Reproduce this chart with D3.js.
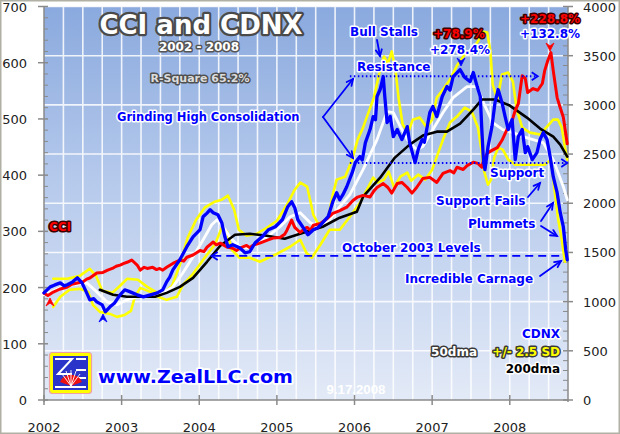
<!DOCTYPE html>
<html><head><meta charset="utf-8">
<script src="https://cdn.jsdelivr.net/npm/d3@7"></script>
<style>html,body{margin:0;padding:0;background:#fff}svg{display:block}</style>
</head><body>
<svg id="c" width="620" height="434"></svg>
<script>
// ---------- DATA ----------
const yearTicks = [2002,2003,2004,2005,2006,2007,2008];
const cciTicks = [0,100,200,300,400,500,600,700];
const cdnxTicks = [0,500,1000,1500,2000,2500,3000,3500,4000];

// CCI (left axis) [decimal year, value]
const cci = [[2002.00,190],[2002.05,186],[2002.12,192],[2002.20,197],[2002.30,201],[2002.36,206],[2002.43,208],[2002.50,210],[2002.55,215],[2002.59,217],[2002.64,222],[2002.68,226],[2002.76,227],[2002.82,231],[2002.88,234],[2002.93,238],[2002.98,240],[2003.03,243],[2003.07,245],[2003.13,249],[2003.20,240],[2003.24,231],[2003.29,236],[2003.33,234],[2003.40,236],[2003.45,232],[2003.49,234],[2003.53,231],[2003.58,236],[2003.66,243],[2003.75,249],[2003.80,247],[2003.84,254],[2003.92,258],[2004.01,266],[2004.06,264],[2004.10,272],[2004.18,281],[2004.22,276],[2004.27,279],[2004.36,272],[2004.43,270],[2004.48,266],[2004.52,270],[2004.61,275],[2004.65,271],[2004.69,275],[2004.78,279],[2004.87,284],[2004.95,288],[2005.04,289],[2005.10,295],[2005.13,302],[2005.19,320],[2005.23,307],[2005.30,298],[2005.35,304],[2005.39,307],[2005.43,302],[2005.47,311],[2005.56,314],[2005.60,318],[2005.65,323],[2005.72,332],[2005.81,337],[2005.90,343],[2005.98,355],[2006.04,361],[2006.11,364],[2006.20,361],[2006.25,372],[2006.29,378],[2006.37,385],[2006.43,378],[2006.48,368],[2006.55,385],[2006.61,387],[2006.68,378],[2006.74,368],[2006.80,378],[2006.88,394],[2006.97,396],[2007.06,387],[2007.14,403],[2007.23,408],[2007.28,404],[2007.32,414],[2007.40,410],[2007.45,417],[2007.53,423],[2007.59,421],[2007.64,414],[2007.66,426],[2007.71,439],[2007.77,444],[2007.84,449],[2007.90,462],[2007.96,480],[2008.03,497],[2008.07,515],[2008.11,527],[2008.16,577],[2008.20,572],[2008.23,547],[2008.30,554],[2008.36,551],[2008.42,563],[2008.45,586],[2008.49,604],[2008.53,618],[2008.56,586],[2008.61,538],[2008.65,520],[2008.69,503],[2008.74,456]];

// CDNX (right axis)
const cdnx = [[2002.00,1089],[2002.04,1120],[2002.08,1150],[2002.14,1170],[2002.21,1191],[2002.26,1160],[2002.30,1171],[2002.37,1201],[2002.43,1242],[2002.49,1191],[2002.55,1089],[2002.59,1018],[2002.64,1030],[2002.68,998],[2002.75,967],[2002.79,896],[2002.85,947],[2002.91,987],[2002.98,1069],[2003.04,1120],[2003.11,1099],[2003.20,1069],[2003.28,1049],[2003.37,1069],[2003.46,1089],[2003.53,1120],[2003.58,1201],[2003.62,1250],[2003.66,1323],[2003.75,1425],[2003.84,1558],[2003.92,1659],[2004.01,1731],[2004.05,1863],[2004.10,1900],[2004.14,1934],[2004.18,1904],[2004.24,1883],[2004.29,1802],[2004.33,1659],[2004.37,1558],[2004.43,1578],[2004.52,1547],[2004.59,1496],[2004.65,1507],[2004.72,1598],[2004.81,1659],[2004.89,1731],[2004.98,1761],[2005.07,1832],[2005.14,1965],[2005.19,2016],[2005.23,1955],[2005.27,1832],[2005.34,1751],[2005.40,1680],[2005.47,1731],[2005.53,1751],[2005.59,1802],[2005.66,1863],[2005.72,2016],[2005.77,2107],[2005.81,2036],[2005.85,2087],[2005.90,2168],[2005.97,2311],[2006.01,2413],[2006.07,2474],[2006.10,2440],[2006.14,2616],[2006.20,2749],[2006.24,2881],[2006.27,2850],[2006.29,3085],[2006.33,3156],[2006.37,3288],[2006.39,3085],[2006.42,2820],[2006.46,2881],[2006.50,2677],[2006.55,2749],[2006.61,2647],[2006.68,2779],[2006.71,2616],[2006.78,2413],[2006.82,2545],[2006.87,2647],[2006.90,2620],[2006.93,2749],[2006.97,2922],[2007.01,2983],[2007.06,2881],[2007.13,3085],[2007.19,3186],[2007.23,3150],[2007.27,3288],[2007.36,3359],[2007.42,3278],[2007.49,3237],[2007.53,3329],[2007.58,3186],[2007.62,3085],[2007.64,2749],[2007.66,2443],[2007.68,2341],[2007.72,2576],[2007.77,2779],[2007.81,3023],[2007.85,3156],[2007.90,3023],[2007.94,2881],[2007.98,2749],[2008.03,2850],[2008.07,2443],[2008.11,2677],[2008.16,2749],[2008.20,2514],[2008.23,2576],[2008.29,2443],[2008.35,2514],[2008.39,2647],[2008.43,2718],[2008.48,2647],[2008.52,2474],[2008.56,2270],[2008.61,2107],[2008.65,1904],[2008.69,1761],[2008.72,1527],[2008.74,1425]];

// CDNX 50-day moving average
const dma50 = [[2002.00,1069],[2002.21,1140],[2002.37,1171],[2002.55,1191],[2002.68,1099],[2002.81,998],[2002.94,967],[2003.07,1018],[2003.20,1049],[2003.37,1049],[2003.53,1089],[2003.66,1150],[2003.79,1293],[2003.92,1456],[2004.05,1629],[2004.16,1782],[2004.23,1832],[2004.31,1761],[2004.40,1649],[2004.52,1558],[2004.65,1547],[2004.78,1598],[2004.91,1680],[2005.04,1761],[2005.17,1863],[2005.30,1904],[2005.43,1802],[2005.56,1761],[2005.68,1832],[2005.81,1965],[2005.94,2087],[2006.11,2341],[2006.29,2647],[2006.42,2932],[2006.50,2922],[2006.59,2779],[2006.68,2647],[2006.80,2545],[2006.88,2576],[2007.01,2749],[2007.14,2922],[2007.27,3074],[2007.45,3186],[2007.58,3186],[2007.66,3023],[2007.78,2820],[2007.91,2749],[2008.04,2718],[2008.17,2677],[2008.30,2647],[2008.43,2616],[2008.56,2443],[2008.69,2168],[2008.74,2036]];

// CDNX 200-day moving average
const dma200 = [[2002.72,1120],[2002.89,1069],[2003.07,1049],[2003.24,1049],[2003.43,1049],[2003.58,1089],[2003.75,1150],[2003.92,1242],[2004.10,1405],[2004.27,1568],[2004.46,1680],[2004.65,1690],[2004.87,1670],[2005.10,1639],[2005.34,1700],[2005.59,1761],[2005.81,1853],[2006.03,1914],[2006.11,2067],[2006.33,2260],[2006.52,2464],[2006.71,2596],[2006.88,2688],[2007.06,2728],[2007.19,2728],[2007.36,2810],[2007.53,2952],[2007.64,3054],[2007.81,3054],[2008.00,2993],[2008.22,2871],[2008.39,2759],[2008.56,2677],[2008.65,2596],[2008.74,2474]];

// 50dma +2.5 SD band
const bandUp = [[2002.12,1232],[2002.30,1232],[2002.46,1262],[2002.59,1334],[2002.67,1262],[2002.75,1110],[2002.88,1089],[2002.98,1161],[2003.07,1232],[2003.21,1222],[2003.33,1150],[2003.46,1089],[2003.56,1099],[2003.65,1161],[2003.75,1374],[2003.85,1649],[2003.96,1832],[2004.07,1955],[2004.20,2016],[2004.29,2036],[2004.37,2077],[2004.45,1934],[2004.51,1731],[2004.61,1670],[2004.74,1690],[2004.87,1751],[2005.00,1822],[2005.13,1985],[2005.23,2138],[2005.30,2209],[2005.39,2168],[2005.47,1883],[2005.56,1751],[2005.65,1812],[2005.72,2087],[2005.77,2240],[2005.88,2270],[2005.97,2443],[2006.04,2647],[2006.11,2769],[2006.17,2901],[2006.25,3074],[2006.33,3359],[2006.38,3492],[2006.43,3420],[2006.48,3543],[2006.53,3339],[2006.57,3054],[2006.62,2800],[2006.69,2718],[2006.75,2850],[2006.84,2871],[2006.93,2769],[2007.00,2850],[2007.06,3074],[2007.14,3156],[2007.23,3258],[2007.32,3400],[2007.42,3512],[2007.51,3563],[2007.59,3644],[2007.65,3746],[2007.71,3736],[2007.75,3543],[2007.78,3207],[2007.84,3054],[2007.90,3309],[2007.98,3329],[2008.04,3237],[2008.09,2952],[2008.16,2769],[2008.26,2718],[2008.39,2698],[2008.48,2779],[2008.56,2850],[2008.62,2850],[2008.67,2769],[2008.71,2576],[2008.74,2443]];

// 50dma -2.5 SD band
const bandDn = [[2002.12,947],[2002.21,1049],[2002.33,1120],[2002.46,1130],[2002.57,1099],[2002.63,967],[2002.72,896],[2002.85,875],[2002.94,845],[2003.04,865],[2003.12,906],[2003.17,1049],[2003.24,1140],[2003.37,1099],[2003.47,1049],[2003.58,1018],[2003.71,1049],[2003.79,1171],[2003.92,1283],[2004.07,1446],[2004.20,1578],[2004.29,1751],[2004.36,1710],[2004.42,1527],[2004.52,1446],[2004.65,1446],[2004.78,1405],[2004.89,1446],[2005.00,1486],[2005.17,1558],[2005.30,1629],[2005.38,1496],[2005.45,1446],[2005.56,1578],[2005.68,1731],[2005.81,1731],[2005.94,1863],[2006.07,2005],[2006.16,2138],[2006.24,2260],[2006.30,2209],[2006.38,2240],[2006.44,2321],[2006.51,2158],[2006.59,2270],[2006.68,2311],[2006.73,2229],[2006.82,2291],[2006.91,2240],[2007.00,2341],[2007.06,2474],[2007.14,2647],[2007.23,2820],[2007.32,2881],[2007.42,2973],[2007.51,2932],[2007.59,2769],[2007.63,2565],[2007.67,2321],[2007.72,2189],[2007.76,2240],[2007.80,2464],[2007.85,2565],[2007.91,2545],[2007.98,2443],[2008.07,2392],[2008.20,2392],[2008.32,2392],[2008.45,2392],[2008.53,2443],[2008.58,2117],[2008.62,1853],[2008.67,1629],[2008.71,1405]];

// reference levels (CDNX)
const resistanceLevel = 3290, supportLevel = 2410, oct2003Level = 1465;

// ---------- CHART ----------
const svg = d3.select("#c");
const L = 44, R = 568, T = 6.5, B = 400;
const x = d3.scaleLinear().domain([2002, 2008.75]).range([L, R]);
const yL = d3.scaleLinear().domain([0, 700]).range([B, T]);
const yR = d3.scaleLinear().domain([0, 4000]).range([B, T]);

const defs = svg.append("defs");
const g = defs.append("linearGradient").attr("id","bg").attr("x1",0).attr("y1",0).attr("x2",0).attr("y2",1);
g.append("stop").attr("offset","0%").attr("stop-color","#8aa9de");
g.append("stop").attr("offset","45%").attr("stop-color","#b6caec");
g.append("stop").attr("offset","100%").attr("stop-color","#e3eaf7");

// frame
svg.append("rect").attr("x",0.75).attr("y",0.75).attr("width",618.5).attr("height",432.5)
  .attr("fill","#fff").attr("stroke","#b0b0a4").attr("stroke-width",1.5);

svg.append("rect").attr("x",L).attr("y",T).attr("width",R-L).attr("height",B-T).attr("fill","url(#bg)");

// grid
const grid = svg.append("g").attr("stroke","#ffffff").attr("stroke-width",1.6).attr("opacity",0.85);
const quarters = d3.range(2002.25, 2008.75, 0.25);
grid.selectAll("line.v").data(quarters).join("line")
  .attr("x1",d=>x(d)).attr("x2",d=>x(d)).attr("y1",T).attr("y2",B);
grid.selectAll("line.h").data(cdnxTicks.filter(d=>d>0)).join("line")
  .attr("x1",L).attr("x2",R).attr("y1",d=>yR(d)).attr("y2",d=>yR(d));

// axes
const ax = svg.append("g").attr("stroke","#8a8a8a").attr("stroke-width",1.5);
ax.append("line").attr("x1",L).attr("x2",L).attr("y1",T).attr("y2",B+2);
ax.append("line").attr("x1",R).attr("x2",R).attr("y1",T).attr("y2",B+2);
ax.append("line").attr("x1",L).attr("x2",R).attr("y1",B).attr("y2",B);
ax.selectAll("line.lmaj").data(cciTicks).join("line").attr("x1",L-6).attr("x2",L+4).attr("y1",d=>yL(d)).attr("y2",d=>yL(d));
ax.selectAll("line.lmin").data(d3.range(20,700,20).filter(d=>d%100)).join("line").attr("x1",L).attr("x2",L+4).attr("y1",d=>yL(d)).attr("y2",d=>yL(d)).attr("stroke-width",1);
ax.selectAll("line.rmaj").data(cdnxTicks).join("line").attr("x1",R-5).attr("x2",R+5).attr("y1",d=>yR(d)).attr("y2",d=>yR(d));
ax.selectAll("line.rmin").data(d3.range(100,4000,100).filter(d=>d%500)).join("line").attr("x1",R-5).attr("x2",R).attr("y1",d=>yR(d)).attr("y2",d=>yR(d)).attr("stroke-width",1);
ax.selectAll("line.xt").data(yearTicks).join("line").attr("x1",d=>x(d)).attr("x2",d=>x(d)).attr("y1",B-5).attr("y2",B+5);

const tf = "'DejaVu Sans', Verdana, sans-serif";
svg.append("g").selectAll("text").data(cciTicks).join("text")
  .attr("x",27).attr("y",d=>yL(d)+5).attr("text-anchor","end")
  .attr("font-family",tf).attr("font-size",13).attr("fill","#222").text(d=>d);
svg.append("g").selectAll("text").data(cdnxTicks).join("text")
  .attr("x",583).attr("y",d=>yR(d)+5).attr("text-anchor","start")
  .attr("font-family",tf).attr("font-size",13).attr("fill","#222").text(d=>d);
svg.append("g").selectAll("text").data(yearTicks).join("text")
  .attr("x",d=>x(d)).attr("y",432).attr("text-anchor","middle")
  .attr("font-family",tf).attr("font-size",13).attr("fill","#222").text(d=>d);

// lines
const lineL = d3.line().x(d=>x(d[0])).y(d=>yL(d[1]));
const lineR = d3.line().x(d=>x(d[0])).y(d=>yR(d[1]));
const plot = svg.append("g").attr("fill","none").attr("stroke-linejoin","round").attr("stroke-linecap","round");
plot.append("path").datum(bandUp).attr("d",lineR).attr("stroke","#ffff00").attr("stroke-width",2.6);
plot.append("path").datum(bandDn).attr("d",lineR).attr("stroke","#ffff00").attr("stroke-width",2.6);
plot.append("path").datum(dma50).attr("d",lineR).attr("stroke","#ffffff").attr("stroke-width",2.8);
plot.append("path").datum(dma200).attr("d",lineR).attr("stroke","#000000").attr("stroke-width",2.6);
plot.append("path").datum(cci).attr("d",lineL).attr("stroke","#ff0000").attr("stroke-width",3);
plot.append("path").datum(cdnx).attr("d",lineR).attr("stroke","#0000ff").attr("stroke-width",3.3);

// ---------- annotations ----------
const bf = "'DejaVu Sans', Verdana, sans-serif";
function label(t, px, py, size, fill, stroke, sw, anchor) {
  return svg.append("text").attr("x",px).attr("y",py).attr("font-family",bf).attr("font-weight","bold")
    .attr("font-size",size).attr("fill",fill).attr("stroke",stroke).attr("stroke-width",sw)
    .attr("stroke-linejoin","round").attr("paint-order","stroke").attr("text-anchor",anchor||"start").text(t);
}
function arrow(x1,y1,x2,y2,color) {
  const a = Math.atan2(y2-y1,x2-x1), h=7, w=0.45;
  const gg = svg.append("g").attr("stroke",color||"#0000ff").attr("stroke-width",1.8).attr("fill","none").attr("stroke-linecap","round");
  gg.append("line").attr("x1",x1).attr("y1",y1).attr("x2",x2).attr("y2",y2);
  gg.append("path").attr("d",`M${x2-h*Math.cos(a-w)},${y2-h*Math.sin(a-w)}L${x2},${y2}L${x2-h*Math.cos(a+w)},${y2-h*Math.sin(a+w)}`);
}
function marker(px,py,dir,color) {
  svg.append("path").attr("d",`M${px},${py}L${px+4},${py+8*dir}L${px},${py+5*dir}L${px-4},${py+8*dir}Z`)
    .attr("fill",color).attr("stroke",color).attr("stroke-width",0.8);
}

// reference lines
const dot = svg.append("g").attr("stroke","#0000ff").attr("fill","none");
dot.append("line").attr("x1",x(2005.94)).attr("x2",x(2008.33)).attr("y1",yR(resistanceLevel)).attr("y2",yR(resistanceLevel))
  .attr("stroke-width",2).attr("stroke-dasharray","1.5,2.5");
dot.append("line").attr("x1",x(2005.94)).attr("x2",x(2008.72)).attr("y1",yR(supportLevel)).attr("y2",yR(supportLevel))
  .attr("stroke-width",2).attr("stroke-dasharray","1.5,2.5");
dot.append("line").attr("x1",x(2004.18)).attr("x2",x(2008.69)).attr("y1",yR(oct2003Level)).attr("y2",yR(oct2003Level))
  .attr("stroke-width",1.8).attr("stroke-dasharray","8,5");
function head(px,py,dir){ svg.append("path").attr("d",`M${px-6*dir},${py-4}L${px},${py}L${px-6*dir},${py+4}`).attr("stroke","#0000ff").attr("stroke-width",1.8).attr("fill","none"); }
head(x(2008.36), yR(resistanceLevel), 1);
head(x(2008.74), yR(supportLevel), 1);
head(x(2004.16), yR(oct2003Level), -1);

arrow(323,117,353,79);
arrow(323,117,353,158);
arrow(377,40,380,56);
arrow(528,197,540,183);
arrow(541,221,553,203);
arrow(541,226,557,236);
arrow(540,276,561,261);

marker(103,314,1,"#0000ff");
marker(50,298,1,"#ff0000");
marker(461,66,-1,"#0000ff");
marker(550,51,-1,"#ff0000");

// titles
label("CCI and CDNX", 201, 34, 26, "#ffffff", "#4a4a4a", 4.5, "middle");
label("2002 - 2008", 199, 51, 12, "#ffffff", "#555555", 3, "middle");
label("R-Square 65.2%", 200, 82, 11, "#dcdcdc", "#505050", 3, "middle");

label("Grinding High Consolidation", 117, 121, 11.5, "#0000ff", "#ffffff", 3);
label("Bull Stalls", 350, 36, 12, "#0000ff", "#ffffff", 3);
label("Resistance", 357, 71, 12, "#0000ff", "#ffffff", 3);
label("+78.9%", 433, 38, 12, "#ff0000", "#3a0000", 3);
label("+278.4%", 430, 54, 12, "#0000ff", "#ffffff", 3);
label("+228.8%", 520, 23, 12, "#ff0000", "#3a0000", 3);
label("+132.8%", 520, 38, 12, "#0000ff", "#ffffff", 3);
label("Support", 490, 177, 12, "#0000ff", "#ffffff", 3);
label("Support Fails", 436, 205, 12, "#0000ff", "#ffffff", 3);
label("Plummets", 468, 228, 12, "#0000ff", "#ffffff", 3);
label("October 2003 Levels", 342, 252, 12, "#0000ff", "#ffffff", 3);
label("Incredible Carnage", 405, 283, 12, "#0000ff", "#ffffff", 3);
label("CCI", 49, 231, 12, "#ff0000", "#3a0000", 3);

label("CDNX", 560, 338, 12, "#0000ff", "#ffffff", 3, "end");
label("+/- 2.5 SD", 560, 356, 12, "#ffff00", "#3a3a3a", 3, "end");
label("50dma", 477, 356, 12, "#ffffff", "#3a3a3a", 3, "end");
label("200dma", 560, 373, 12, "#000000", "#ffffff", 3, "end");

svg.append("text").attr("x",356).attr("y",394).attr("text-anchor","middle").attr("font-family","'Liberation Sans', Arial, sans-serif")
  .attr("font-size",13).attr("font-weight","bold").attr("fill","#ffffff").attr("textLength",59).attr("lengthAdjust","spacingAndGlyphs").text("9.17.2008");

// logo
const lg = svg.append("g");
lg.append("rect").attr("x",49.5).attr("y",352.5).attr("width",42).attr("height",41).attr("rx",3).attr("fill","#ffff00").attr("stroke","#f0a0a0").attr("stroke-width",1.2);
lg.append("rect").attr("x",53).attr("y",356).attr("width",35).attr("height",34).attr("fill","#2a34c8");
lg.append("path").attr("d","M55,359H72L58,374H72 M55,387H86 M76,359H86 M76,370H86 M78,378H86").attr("stroke","#ffffff").attr("stroke-width",2).attr("fill","none");
lg.append("path").attr("d","M60,382A12,12 0 0 1 82,382L71,386Z").attr("fill","#ee1111");
lg.append("path").attr("d","M71,386L62,374M71,386L66,371M71,386L71,370M71,386L76,371M71,386L80,374").attr("stroke","#ffffff").attr("stroke-width",0.9);
label("www.ZealLLC.com", 98, 383, 17, "#0000ff", "#ffffff", 3.5).attr("textLength",195).attr("lengthAdjust","spacingAndGlyphs");
</script>
</body></html>
